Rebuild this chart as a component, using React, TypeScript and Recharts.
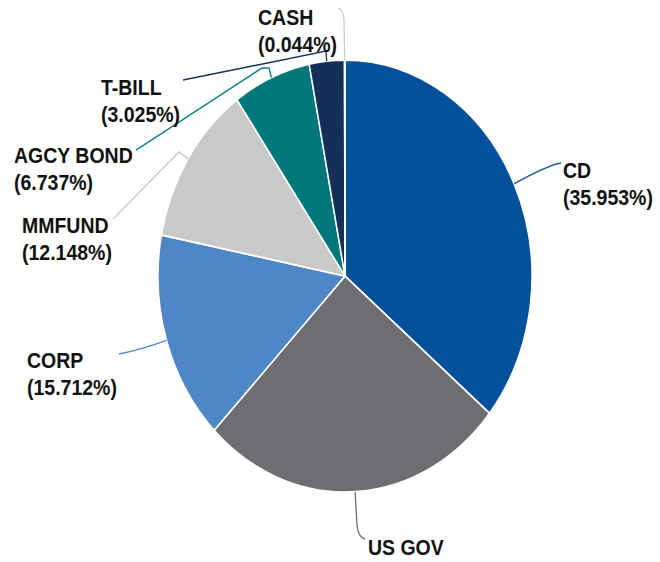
import React from 'react';
import { PieChart, Pie, Cell } from 'recharts';

const categories = ['CD', 'US GOV', 'CORP', 'MMFUND', 'AGCY BOND', 'T-BILL', 'CASH'];
const shares = [35.953, 26.381, 15.712, 12.148, 6.737, 3.025, 0.044];

const COLORS = ['#05509a', '#6d6e71', '#4f86c6', '#c8c9cb', '#00777a', '#14305a', '#c9cdd3'];
const LINE_COLORS = ['#1f5c9e', '#6d6e71', '#4f86c6', '#c4c5c7', '#0b7c80', '#14305a', '#c9cdd3'];

const S = 1.155; // vertical stretch of the original picture
const W = 660;
const H = 487;

const p = (x: number, y: number) => `${x},${(y / S).toFixed(1)}`;

const LAYOUT = [
  { d: `Q${p(548, 165)} ${p(561, 163)}`, tx: 563, ty: 178, pct: true },
  { d: `L${p(357, 525)} Q${p(358, 537)} ${p(365, 539)}`, tx: 368, ty: 555, pct: false },
  { d: `Q${p(140, 350)} ${p(119, 354)}`, tx: 27, ty: 368, pct: true },
  { d: `L${p(179, 152)} L${p(113, 219)}`, tx: 22, ty: 233, pct: true },
  { d: `L${p(269, 68)} L${p(262, 68)} L${p(136, 150)}`, tx: 14, ty: 163, pct: true },
  { d: `L${p(326, 51)} L${p(183, 80)}`, tx: 101, ty: 95, pct: true },
  { d: `L${p(344, 20)} Q${p(343, 9)} ${p(338, 8)}`, tx: 258, ty: 25, pct: true },
];

const data = categories.map((name, i) => ({ name, value: shares[i] }));

const renderLabel = (props: any) => {
  const { cx, cy, midAngle, outerRadius, index, name, value } = props;
  const rad = Math.PI / 180;
  const ex = cx + outerRadius * Math.cos(-midAngle * rad);
  const ey = cy + outerRadius * Math.sin(-midAngle * rad);
  const L = LAYOUT[index];
  return (
    <g>
      <path
        d={`M${ex.toFixed(1)},${ey.toFixed(1)} ${L.d}`}
        fill="none"
        stroke={LINE_COLORS[index]}
        strokeWidth={1.3}
      />
      <text
        x={L.tx}
        y={L.ty / S}
        fontSize={19.5}
        fontWeight={700}
        fill="#111"
        fontFamily="'Liberation Sans', Arial, sans-serif"
        textAnchor="start"
      >
        <tspan x={L.tx}>{name}</tspan>
        {L.pct && (
          <tspan x={L.tx} dy={23.4}>{`(${Number(value).toFixed(3)}%)`}</tspan>
        )}
      </text>
    </g>
  );
};

export default function App() {
  return (
    <div
      style={{
        position: 'absolute',
        left: 0,
        top: 0,
        width: W,
        height: H,
        transform: `scaleY(${S})`,
        transformOrigin: '0 0',
        background: '#fff',
      }}
    >
      <PieChart width={W} height={H} margin={{ top: 0, right: 0, bottom: 0, left: 0 }}>
        <Pie
          data={data}
          dataKey="value"
          nameKey="name"
          cx={345}
          cy={239}
          outerRadius={187}
          startAngle={90}
          endAngle={-270}
          stroke="#ffffff"
          strokeWidth={1.5}
          label={renderLabel}
          labelLine={false}
          isAnimationActive={false}
        >
          {data.map((d, i) => (
            <Cell key={d.name} fill={COLORS[i]} />
          ))}
        </Pie>
      </PieChart>
    </div>
  );
}
